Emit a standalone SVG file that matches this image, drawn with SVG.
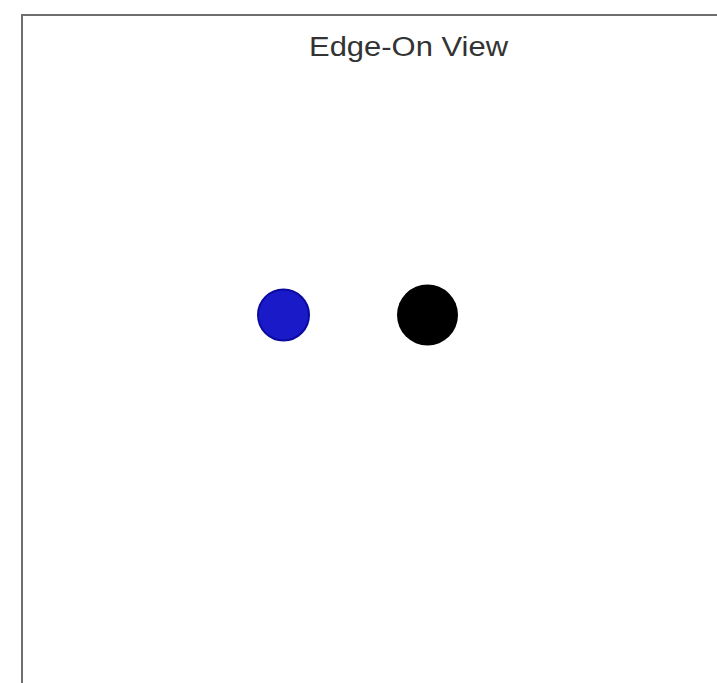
<svg xmlns="http://www.w3.org/2000/svg" width="717" height="683" viewBox="0 0 717 683">
<style>
.frame{fill:none;stroke:#6e6e6e;stroke-width:2}
.title{font-family:"Liberation Sans",Arial,sans-serif;font-size:27px;fill:#333}
</style>
<rect x="0" y="0" width="717" height="683" fill="#fff"/>
<path class="frame" d="M22,690 V15 H720"/>
<text class="title" x="309" y="56" textLength="199" lengthAdjust="spacingAndGlyphs">Edge-On View</text>
<g id="blue"><circle cx="283.5" cy="315" r="25.5" fill="#1a1ac8" stroke="#0a0aa0" stroke-width="2"/></g>
<g id="black"><circle cx="427.5" cy="315" r="30.5" fill="#000"/></g>
<g id="connectors"></g>
</svg>
